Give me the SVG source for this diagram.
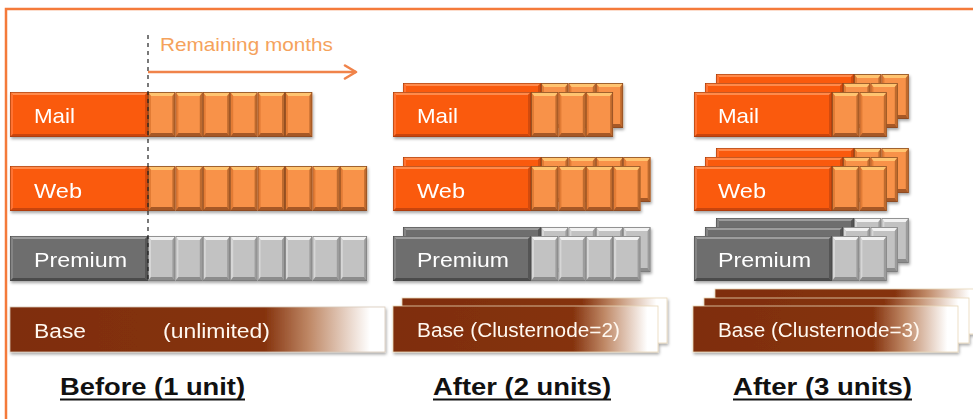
<svg xmlns="http://www.w3.org/2000/svg" xmlns:xlink="http://www.w3.org/1999/xlink" width="973" height="419" viewBox="0 0 973 419">
  <style>
    .lbl { font-family: "Liberation Sans", Arial, sans-serif; font-size: 21px; fill: #FFFFFF; }
    .base { font-family: "Liberation Sans", Arial, sans-serif; font-size: 20px; fill: #FFF8F0; }
    .cap { font-family: "Liberation Sans", Arial, sans-serif; font-size: 24px; font-weight: bold; fill: #111111; }
    .uline { stroke: #111111; stroke-width: 2; }
    .note { font-family: "Liberation Sans", Arial, sans-serif; font-size: 19px; fill: #F5A25C; }
    .frame { fill: none; stroke: #F47A3A; stroke-width: 2.5; }
  </style>
  <defs>
    <filter id="sh" x="-5%" y="-20%" width="115%" height="160%">
      <feDropShadow dx="1" dy="2" stdDeviation="1.4" flood-color="#000" flood-opacity="0.35"/>
    </filter>
    <linearGradient id="bg" x1="0" y1="0" x2="1" y2="0">
      <stop offset="0" stop-color="#7F2D0A"/>
      <stop offset="0.68" stop-color="#85330E"/>
      <stop offset="0.8" stop-color="#C08A68"/>
      <stop offset="0.96" stop-color="#FFFFFF"/>
      <stop offset="1" stop-color="#FFFFFF"/>
    </linearGradient>
    <symbol id="oc" viewBox="0 0 27.4 45" width="27.4" height="45">
      <rect x="0" y="0" width="27.4" height="45" fill="#F8924A"/>
      <polygon points="0,0 27.4,0 24.4,4 3,4" fill="#FFC470"/>
      <polygon points="0,0 3,4 3,41 0,45" fill="#E27B36"/>
      <polygon points="27.4,0 24.4,4 24.4,41 27.4,45" fill="#BE6A2E"/>
      <polygon points="0,45 3,41 24.4,41 27.4,45" fill="#A65826"/>
      <rect x="0.4" y="0.4" width="26.6" height="44.2" fill="none" stroke="#8A4A20" stroke-width="0.8"/>
    </symbol>
    <symbol id="gc" viewBox="0 0 27.4 45" width="27.4" height="45">
      <rect x="0" y="0" width="27.4" height="45" fill="#C2C2C2"/>
      <polygon points="0,0 27.4,0 24.4,4 3,4" fill="#F2F2F2"/>
      <polygon points="0,0 3,4 3,41 0,45" fill="#D6D6D6"/>
      <polygon points="27.4,0 24.4,4 24.4,41 27.4,45" fill="#9C9C9C"/>
      <polygon points="0,45 3,41 24.4,41 27.4,45" fill="#8C8C8C"/>
      <rect x="0.4" y="0.4" width="26.6" height="44.2" fill="none" stroke="#7A7A7A" stroke-width="0.8"/>
    </symbol>
    <symbol id="ol" viewBox="0 0 138 45" width="138" height="45">
      <rect x="0" y="0" width="138" height="45" fill="#FA5A0A"/>
      <polygon points="0,0 138,0 135,3 3,3" fill="#FF8A4C"/>
      <polygon points="0,0 3,3 3,42 0,45" fill="#FF7232"/>
      <polygon points="0,45 3,42 135,42 138,45" fill="#C94508"/>
      <polygon points="138,0 135,3 135,42 138,45" fill="#D34C0A"/>
      <rect x="0.3" y="0.3" width="137.4" height="44.4" fill="none" stroke="#A03A08" stroke-width="0.6"/>
    </symbol>
    <symbol id="gl" viewBox="0 0 138 45" width="138" height="45">
      <rect x="0" y="0" width="138" height="45" fill="#6E6E6E"/>
      <polygon points="0,0 138,0 135,3 3,3" fill="#9C9C9C"/>
      <polygon points="0,0 3,3 3,42 0,45" fill="#848484"/>
      <polygon points="0,45 3,42 135,42 138,45" fill="#4C4C4C"/>
      <polygon points="138,0 135,3 135,42 138,45" fill="#555555"/>
      <rect x="0.3" y="0.3" width="137.4" height="44.4" fill="none" stroke="#4A4A4A" stroke-width="0.6"/>
    </symbol>
    <g id="om2"><use href="#ol"/><use href="#oc" x="138"/><use href="#oc" x="165.4"/></g>
    <g id="om3"><use href="#ol"/><use href="#oc" x="138"/><use href="#oc" x="165.4"/><use href="#oc" x="192.8"/></g>
    <g id="om4"><use href="#ol"/><use href="#oc" x="138"/><use href="#oc" x="165.4"/><use href="#oc" x="192.8"/><use href="#oc" x="220.2"/></g>
    <g id="om6"><use href="#ol"/><use href="#oc" x="138"/><use href="#oc" x="165.4"/><use href="#oc" x="192.8"/><use href="#oc" x="220.2"/><use href="#oc" x="247.6"/><use href="#oc" x="275"/></g>
    <g id="om8"><use href="#ol"/><use href="#oc" x="138"/><use href="#oc" x="165.4"/><use href="#oc" x="192.8"/><use href="#oc" x="220.2"/><use href="#oc" x="247.6"/><use href="#oc" x="275"/><use href="#oc" x="302.4"/><use href="#oc" x="329.8"/></g>
    <g id="gm2"><use href="#gl"/><use href="#gc" x="138"/><use href="#gc" x="165.4"/></g>
    <g id="gm4"><use href="#gl"/><use href="#gc" x="138"/><use href="#gc" x="165.4"/><use href="#gc" x="192.8"/><use href="#gc" x="220.2"/></g>
    <g id="gm8"><use href="#gl"/><use href="#gc" x="138"/><use href="#gc" x="165.4"/><use href="#gc" x="192.8"/><use href="#gc" x="220.2"/><use href="#gc" x="247.6"/><use href="#gc" x="275"/><use href="#gc" x="302.4"/><use href="#gc" x="329.8"/></g>
    <marker id="ah" viewBox="0 0 16 16" refX="14" refY="8" markerWidth="16" markerHeight="16" markerUnits="userSpaceOnUse" orient="auto">
      <path d="M3,1.5 L14,8 L3,14.5" fill="none" stroke="#F0834A" stroke-width="2.6" stroke-linecap="round" stroke-linejoin="round"/>
    </marker>
  </defs>

  <rect x="0" y="0" width="973" height="419" fill="#FFFFFF"/>
  <path class="frame" d="M6,419 L6,9 L973,9"/>

  <!-- Before (1 unit) -->
  <g id="before-mail" filter="url(#sh)">
    <use href="#om6" x="10" y="92"/>
    <text class="lbl" x="34" y="123" textLength="41" lengthAdjust="spacingAndGlyphs">Mail</text>
  </g>
  <g id="before-web" filter="url(#sh)">
    <use href="#om8" x="10" y="166"/>
    <text class="lbl" x="34" y="198" textLength="48" lengthAdjust="spacingAndGlyphs">Web</text>
  </g>
  <g id="before-premium" filter="url(#sh)">
    <use href="#gm8" x="10" y="236"/>
    <text class="lbl" x="34" y="267" textLength="93" lengthAdjust="spacingAndGlyphs">Premium</text>
  </g>
  <g id="before-base" filter="url(#sh)">
    <rect x="10" y="307" width="375" height="45" fill="url(#bg)" stroke="#D8C8B8" stroke-width="0.8"/>
    <text class="base" x="34" y="338" textLength="52" lengthAdjust="spacingAndGlyphs">Base</text>
    <text class="base" x="163" y="338" textLength="107" lengthAdjust="spacingAndGlyphs">(unlimited)</text>
  </g>
  <g id="before-label">
    <text class="cap" x="60" y="395" textLength="185" lengthAdjust="spacingAndGlyphs">Before (1 unit)</text>
    <line class="uline" x1="60" y1="399.5" x2="245" y2="399.5"/>
  </g>

  <!-- After (2 units) -->
  <g id="after2-mail" filter="url(#sh)">
    <use href="#om3" x="403" y="83"/>
    <use href="#om3" x="393" y="92"/>
    <text class="lbl" x="417" y="123" textLength="41" lengthAdjust="spacingAndGlyphs">Mail</text>
  </g>
  <g id="after2-web" filter="url(#sh)">
    <use href="#om4" x="403" y="157"/>
    <use href="#om4" x="393" y="166"/>
    <text class="lbl" x="417" y="198" textLength="48" lengthAdjust="spacingAndGlyphs">Web</text>
  </g>
  <g id="after2-premium" filter="url(#sh)">
    <use href="#gm4" x="403" y="227"/>
    <use href="#gm4" x="393" y="236"/>
    <text class="lbl" x="417" y="267" textLength="92" lengthAdjust="spacingAndGlyphs">Premium</text>
  </g>
  <g id="after2-base" filter="url(#sh)">
    <rect x="402" y="298" width="265" height="45" fill="url(#bg)" stroke="#E8D8B8" stroke-width="0.8"/>
    <rect x="393" y="306" width="265" height="46" fill="url(#bg)" stroke="#E8D8B8" stroke-width="0.8"/>
    <text class="base" x="417" y="337" textLength="203" lengthAdjust="spacingAndGlyphs">Base (Clusternode=2)</text>
  </g>
  <g id="after2-label">
    <text class="cap" x="433" y="395" textLength="178" lengthAdjust="spacingAndGlyphs">After (2 units)</text>
    <line class="uline" x1="433" y1="399.5" x2="611" y2="399.5"/>
  </g>

  <!-- After (3 units) -->
  <g id="after3-mail" filter="url(#sh)">
    <use href="#om2" x="716" y="74"/>
    <use href="#om2" x="705" y="83"/>
    <use href="#om2" x="694" y="92"/>
    <text class="lbl" x="718" y="123" textLength="41" lengthAdjust="spacingAndGlyphs">Mail</text>
  </g>
  <g id="after3-web" filter="url(#sh)">
    <use href="#om2" x="716" y="148"/>
    <use href="#om2" x="705" y="157"/>
    <use href="#om2" x="694" y="166"/>
    <text class="lbl" x="718" y="198" textLength="48" lengthAdjust="spacingAndGlyphs">Web</text>
  </g>
  <g id="after3-premium" filter="url(#sh)">
    <use href="#gm2" x="716" y="218"/>
    <use href="#gm2" x="705" y="227"/>
    <use href="#gm2" x="694" y="236"/>
    <text class="lbl" x="718" y="267" textLength="93" lengthAdjust="spacingAndGlyphs">Premium</text>
  </g>
  <g id="after3-base" filter="url(#sh)">
    <rect x="715" y="289" width="265" height="45" fill="url(#bg)" stroke="#E8D8B8" stroke-width="0.8"/>
    <rect x="704" y="298" width="265" height="45" fill="url(#bg)" stroke="#E8D8B8" stroke-width="0.8"/>
    <rect x="693" y="306" width="265" height="46" fill="url(#bg)" stroke="#E8D8B8" stroke-width="0.8"/>
    <text class="base" x="718" y="337" textLength="202" lengthAdjust="spacingAndGlyphs">Base (Clusternode=3)</text>
  </g>
  <g id="after3-label">
    <text class="cap" x="733" y="395" textLength="179" lengthAdjust="spacingAndGlyphs">After (3 units)</text>
    <line class="uline" x1="733" y1="399.5" x2="912" y2="399.5"/>
  </g>

  <!-- annotation: remaining months -->
  <g id="connectors">
    <line x1="148" y1="35" x2="148" y2="283" stroke="#222222" stroke-width="1.2" stroke-dasharray="4,4"/>
    <line x1="148" y1="72" x2="356" y2="72" stroke="#F0834A" stroke-width="2.4" marker-end="url(#ah)"/>
  </g>
  <text class="note" x="160" y="51" textLength="173" lengthAdjust="spacingAndGlyphs">Remaining months</text>
</svg>
